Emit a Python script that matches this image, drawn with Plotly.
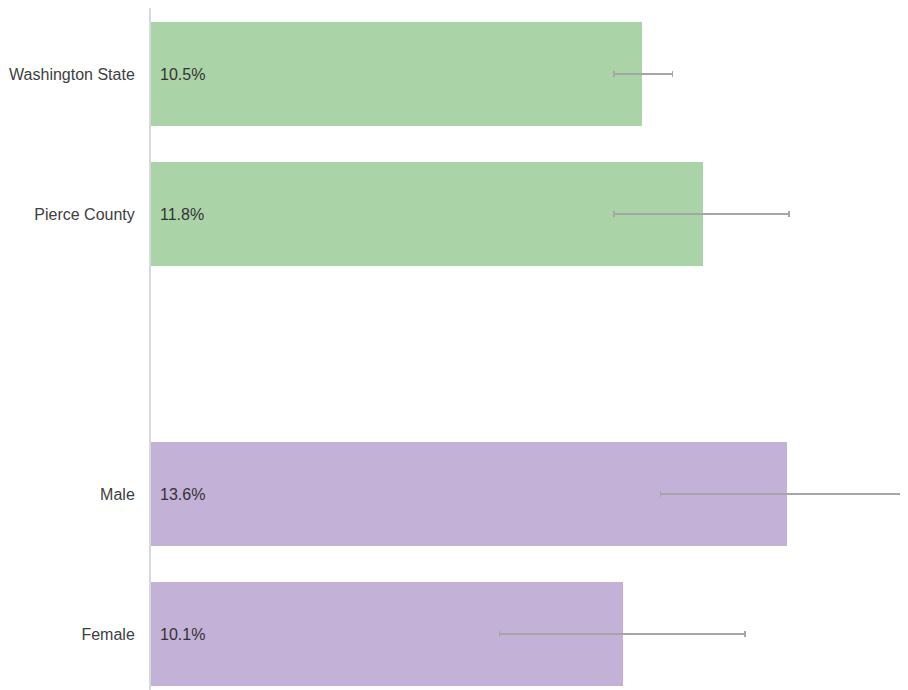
import plotly.graph_objects as go

# Data
region_labels = ["Washington State", "Pierce County"]
region_values = [10.5, 11.8]
region_ci_low = [9.9, 9.9]
region_ci_high = [11.15, 13.65]

sex_labels = ["Male", "Female"]
sex_values = [13.6, 10.1]
sex_ci_low = [10.9, 7.45]
sex_ci_high = [16.3, 12.7]

# Row slots (one empty slot between the two groups)
region_rows = [0, 1]
sex_rows = [3, 4]

GREEN = "#aad4a8"
PURPLE = "#c3b1d8"
ERR = "#a6a6a6"
FONT = "Liberation Sans, Arial, sans-serif"

fig = go.Figure()


def add_group(labels, values, lo, hi, rows, color):
    fig.add_trace(go.Bar(
        y=rows, x=values, orientation="h", width=0.743,
        marker=dict(color=color, line=dict(width=0)),
        error_x=dict(type="data", symmetric=False,
                     array=[h - v for h, v in zip(hi, values)],
                     arrayminus=[v - l for v, l in zip(values, lo)],
                     color=ERR, thickness=1.5, width=3),
        hoverinfo="skip", showlegend=False,
    ))
    for r, v in zip(rows, values):
        fig.add_annotation(x=0, y=r, xref="x", yref="y", text=f"{v:.1f}%",
                           showarrow=False, xanchor="left", yanchor="middle",
                           xshift=7, font=dict(family=FONT, size=16, color="#333333"))


add_group(region_labels, region_values, region_ci_low, region_ci_high, region_rows, GREEN)
add_group(sex_labels, sex_values, sex_ci_low, sex_ci_high, sex_rows, PURPLE)

fig.update_layout(
    width=900, height=682,
    margin=dict(l=143, r=0, t=0, b=0, autoexpand=False),
    paper_bgcolor="white", plot_bgcolor="white",
    font=dict(family=FONT, size=16, color="#404040"),
    bargap=0,
    xaxis=dict(range=[0, 16.19], showgrid=False, zeroline=False,
               showticklabels=False, ticks="", showline=False, fixedrange=True),
    yaxis=dict(range=[4.4, -0.4714], tickvals=region_rows + sex_rows,
               ticktext=region_labels + sex_labels, showgrid=False,
               zeroline=False, ticks="", ticklabelstandoff=11,
               showline=True, linecolor="#d9d9d9", linewidth=2,
               tickfont=dict(family=FONT, size=16, color="#404040")),
)

fig.write_html("out.html")
